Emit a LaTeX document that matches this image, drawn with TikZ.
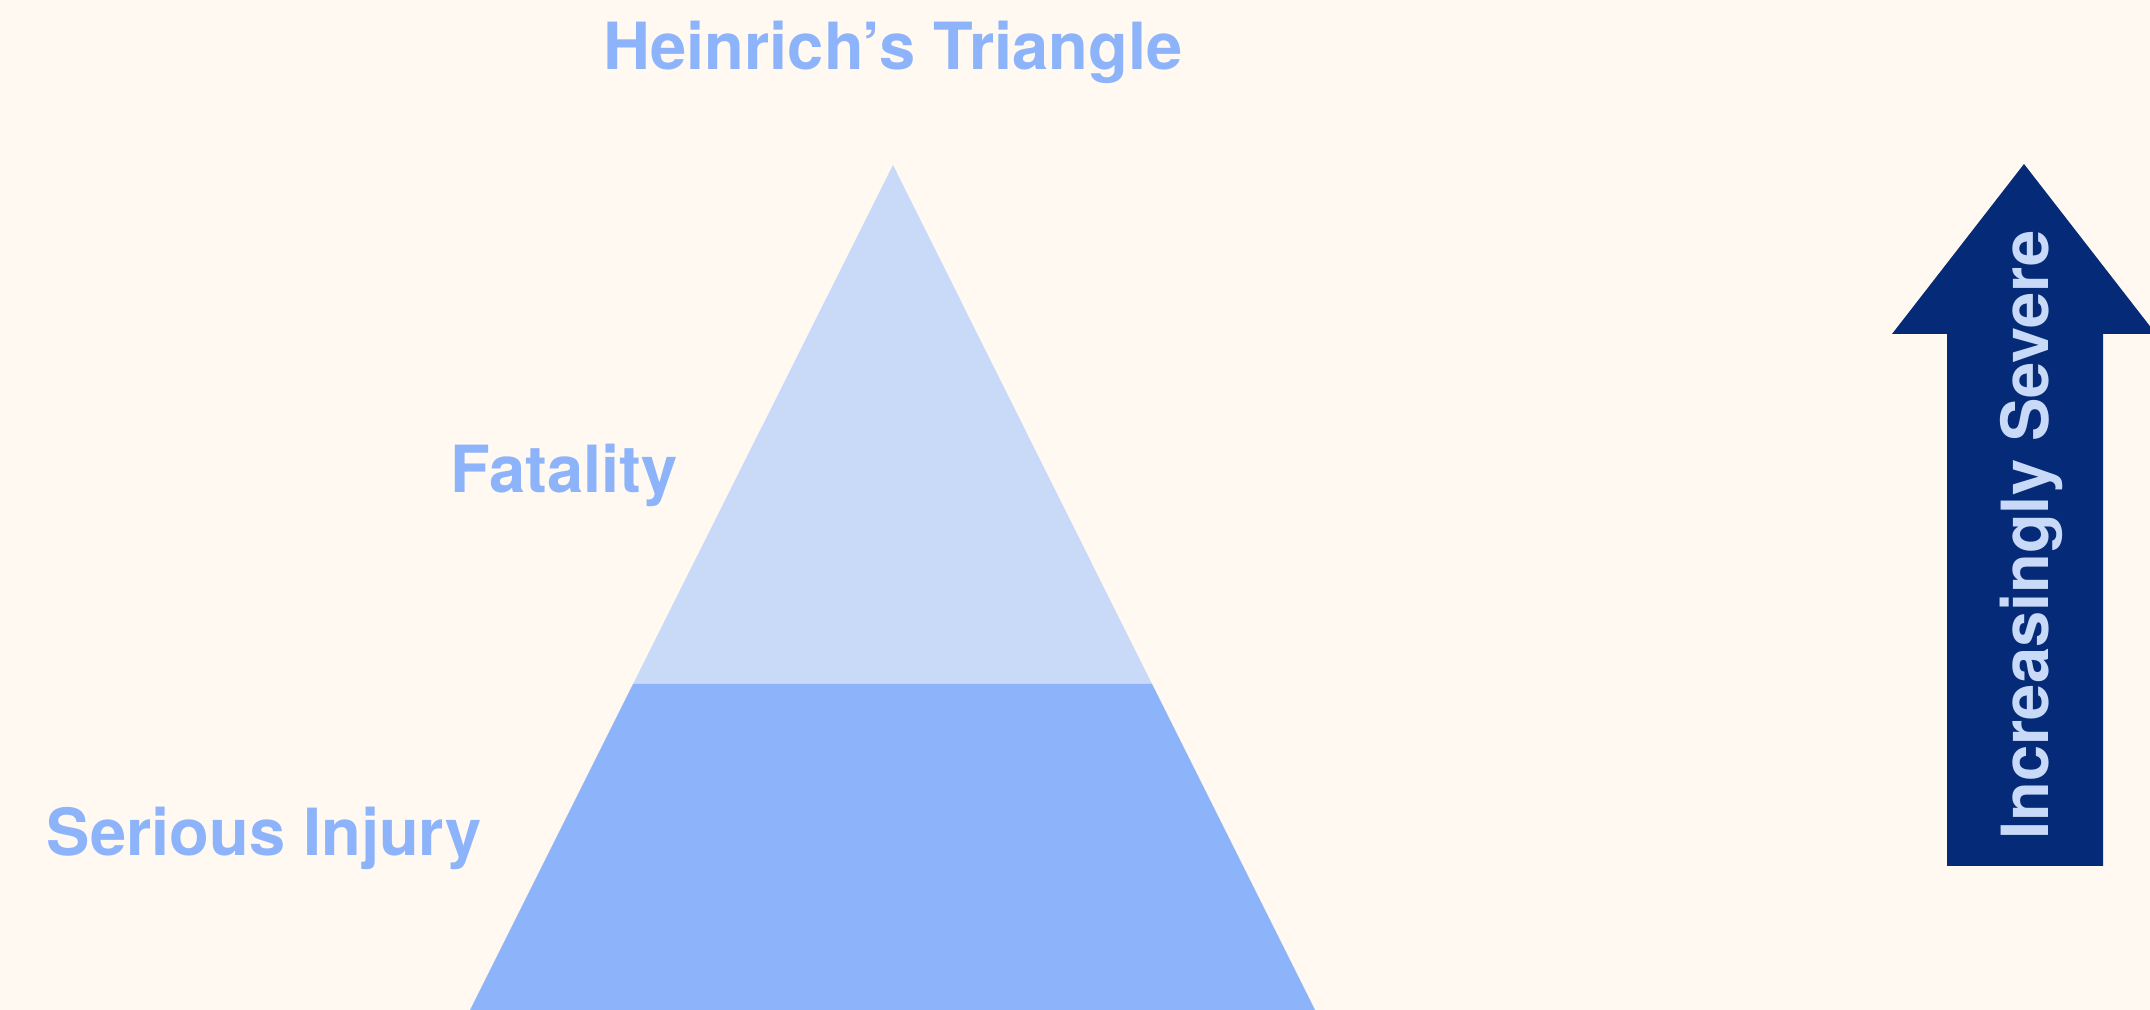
\documentclass[tikz,border=0pt]{standalone}
\usepackage{fontspec}
\setmainfont{TeX Gyre Heros}
\definecolor{paper}{HTML}{FFF9F2}
\definecolor{tierTop}{HTML}{C9DAF8}
\definecolor{tierBottom}{HTML}{8DB3FA}
\definecolor{labelBlue}{HTML}{8DB4FA}
\definecolor{arrowNavy}{HTML}{052B78}
\begin{document}
\begin{tikzpicture}[x=0.1mm, y=-0.1mm,
    font=\bfseries\fontsize{18.5}{22}\selectfont,
    tierlabel/.style={text=labelBlue, inner sep=0pt}]
    \fill[paper] (0,0) rectangle (2150,1010);
    \useasboundingbox (0,0) rectangle (2150,1010);
    \clip (0,0) rectangle (2150,1010);

    % the two tiers of the triangle
    \fill[tierTop] (893,165) -- (1152,684) -- (633,684) -- cycle;
    \fill[tierBottom] (633,684) -- (1152,684) -- (1315,1010) -- (470,1010) -- cycle;

    \node[tierlabel, anchor=base] (title) at (893,70) {Heinrich’s Triangle};
    \foreach \name/\x/\y/\text in {
        fatality/450/493/Fatality,
        injury/46/856/Serious Injury
    } {
        \node[tierlabel, anchor=base west] (\name) at (\x,\y) {\text};
    }

    % severity arrow
    \fill[arrowNavy] (1947,866) -- (1947,334) -- (1892,334) -- (2024,164)
        -- (2156,334) -- (2103,334) -- (2103,866) -- cycle;
    \node[text=tierTop, inner sep=0pt, rotate=90, anchor=base] (severity)
        at (2048,535) {Increasingly Severe};
\end{tikzpicture}
\end{document}
